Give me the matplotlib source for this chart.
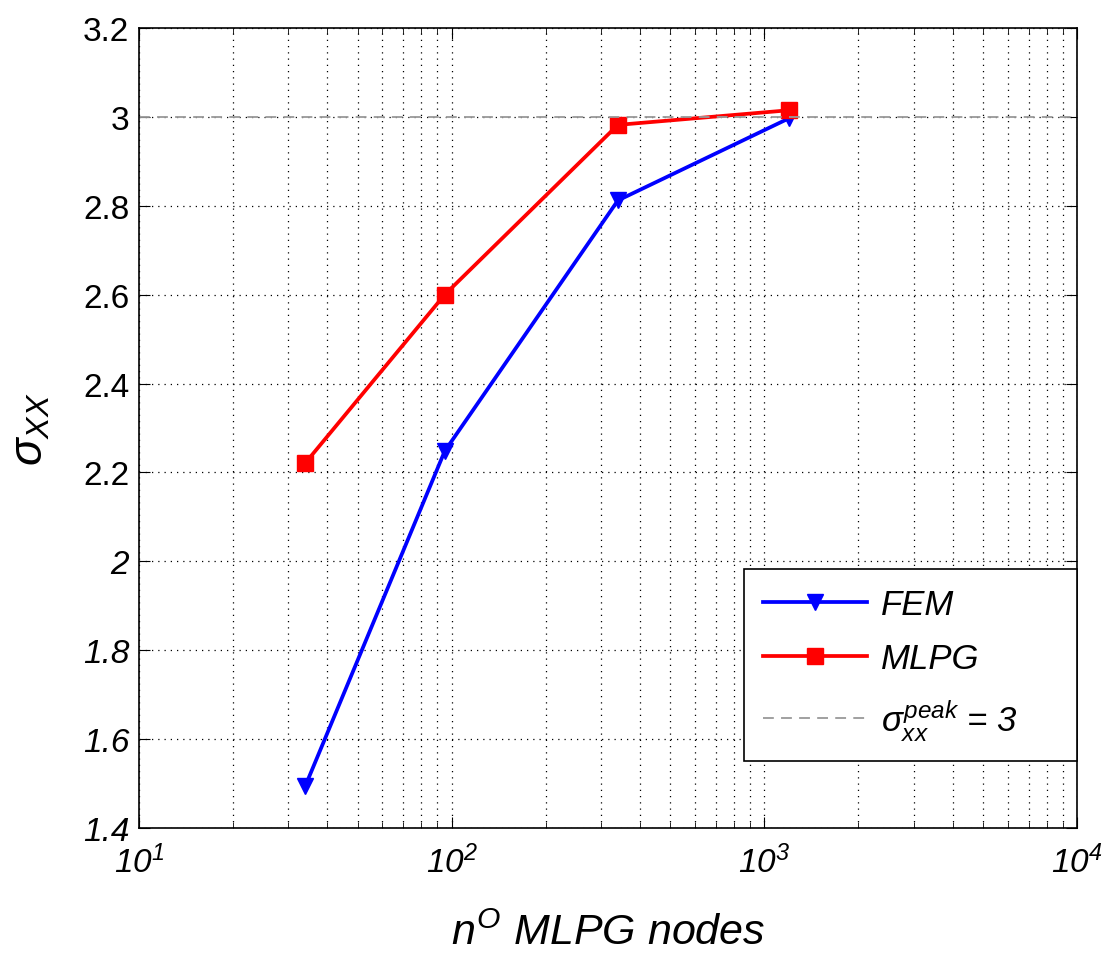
import numpy as np
import matplotlib.pyplot as plt
import matplotlib
from matplotlib.ticker import FixedLocator, LogLocator, NullFormatter

matplotlib.rcParams.update({'font.family': 'Liberation Sans',
                            'mathtext.fontset': 'custom',
                            'mathtext.rm': 'Liberation Sans',
                            'mathtext.it': 'Liberation Sans:italic',
                            'mathtext.sf': 'Liberation Sans:italic',
                            'mathtext.bf': 'Liberation Sans:bold'})

# data
nodes = [34, 95, 340, 1200]
fem = [1.494, 2.248, 2.812, 2.997]
mlpg = [2.221, 2.600, 2.982, 3.015]
sigma_peak = 3.0

y_ticks = [1.4, 1.6, 1.8, 2.0, 2.2, 2.4, 2.6, 2.8, 3.0, 3.2]
y_tick_labels = ['1.4', '1.6', '1.8', '2', '2.2', '2.4', '2.6', '2.8', '3', '3.2']
x_ticks = [1e1, 1e2, 1e3, 1e4]
x_tick_labels = [r'$\mathsf{10^{1}}$', r'$\mathsf{10^{2}}$', r'$\mathsf{10^{3}}$', r'$\mathsf{10^{4}}$']

fig = plt.figure(figsize=(11.13, 9.54), dpi=100)
ax = fig.add_axes([0.1249, 0.131, 0.8428, 0.8386])

ax.plot(nodes, fem, color='#0000ff', linewidth=2.7, marker='v', markersize=12, label='FEM')
ax.plot(nodes, mlpg, color='#ff0000', linewidth=2.7, marker='s', markersize=11, label='MLPG')
ax.axhline(sigma_peak, color='#999999', linestyle=(0, (6, 4)), linewidth=1.3,
           label=r'$\mathit{\sigma_{xx}^{peak}}$ = 3')

ax.set_xscale('log')
ax.set_xlim(1e1, 1e4)
ax.set_ylim(1.4, 3.2)

ax.xaxis.set_major_locator(FixedLocator(x_ticks))
ax.set_xticklabels(x_tick_labels)
ax.xaxis.set_minor_locator(LogLocator(base=10, subs=np.arange(2, 10)))
ax.xaxis.set_minor_formatter(NullFormatter())
ax.set_yticks(y_ticks)
ax.set_yticklabels(y_tick_labels)
for lbl, v in zip(ax.get_yticklabels(), y_ticks):
    if v < 2.1:
        lbl.set_fontstyle('italic')

ax.grid(True, which='major', axis='both', linestyle=(0, (1, 4)), color='k', linewidth=0.9)
ax.grid(True, which='minor', axis='x', linestyle=(0, (1, 4)), color='k', linewidth=0.9)

ax.tick_params(axis='both', which='both', direction='in', top=True, right=True)
ax.tick_params(axis='both', which='major', length=8, labelsize=24)
ax.tick_params(axis='x', which='major', pad=12)
ax.tick_params(axis='y', which='major', pad=7)
ax.tick_params(axis='x', which='minor', length=4)
for s in ax.spines.values():
    s.set_linewidth(1.2)

ax.set_xlabel(r'$\mathit{n^{O}}$ MLPG nodes', fontsize=31, fontstyle='italic', labelpad=24)
ax.set_ylabel(r'$\sigma_{XX}$', fontsize=33, labelpad=22)

leg = ax.legend(loc='lower left', bbox_to_anchor=(0.645, 0.084, 0.355, 0.2), mode='expand',
                borderaxespad=0, fontsize=25, fancybox=False, edgecolor='k', framealpha=1,
                handlelength=3.0, handletextpad=0.4, labelspacing=0.62, borderpad=0.55)
leg.get_frame().set_linewidth(1.2)
for t in leg.get_texts():
    t.set_fontstyle('italic')

plt.savefig('out.png', dpi=100)
